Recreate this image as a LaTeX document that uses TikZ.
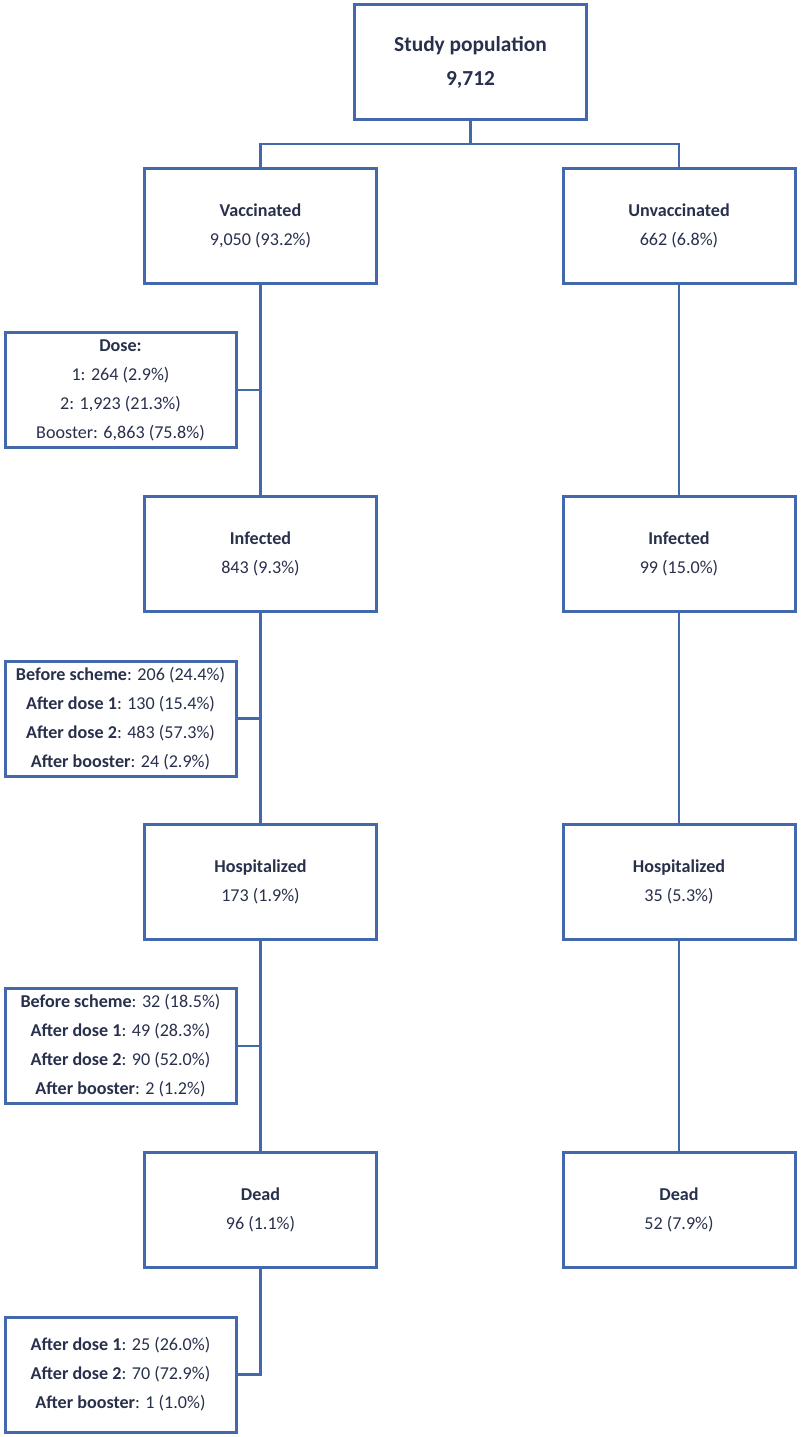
\documentclass[tikz,border=0pt]{standalone}
\usepackage{fontspec}
\setmainfont{Carlito}
\definecolor{boxblue}{RGB}{68,104,172}
\definecolor{textnavy}{RGB}{40,48,76}
\tikzset{
  box/.style={draw=boxblue, line width=1.5pt, text=textnavy, align=center,
    minimum width=116pt, minimum height=57.5pt, inner sep=0pt,
    font={\fontsize{9.05}{14.5}\selectfont}},
  sidebox/.style={box, minimum width=115.5pt, minimum height=57.5pt},
  topbox/.style={box, font={\fontsize{10.7}{17}\selectfont\bfseries}},
  link/.style={draw=boxblue, line width=1.4pt}
}
\begin{document}
\begin{tikzpicture}[x=0.5pt,y=-0.5pt]  % ------ flow of the study population --------
    \useasboundingbox (0,0) rectangle (800,1437);

    \node[topbox] (study) at (470.5,62) {Study population\\9,712};
    \coordinate (split) at (470.5,144);

    % vaccinated column
    \node[box] (vacc) at (260.5,226) {\textbf{Vaccinated}\\9,050 (93.2\%)};
    \node[box] (infv) at (260.5,554) {\textbf{Infected}\\843 (9.3\%)};
    \node[box] (hospv) at (260.5,881.5) {\textbf{Hospitalized}\\173 (1.9\%)};
    \node[box] (deadv) at (260.5,1210) {\textbf{Dead}\\96 (1.1\%)};

    % unvaccinated column
    \node[box] (unvacc) at (679,226) {\textbf{Unvaccinated}\\662 (6.8\%)};
    \node[box] (infu) at (679,554) {\textbf{Infected}\\99 (15.0\%)};
    \node[box] (hospu) at (679,881.5) {\textbf{Hospitalized}\\35 (5.3\%)};
    \node[box] (deadu) at (679,1210) {\textbf{Dead}\\52 (7.9\%)};

    % detail boxes on the left
    \node[sidebox] (dose) at (120.5,390) {\textbf{Dose:}\\1: 264 (2.9\%)\\2: 1,923 (21.3\%)\\Booster: 6,863 (75.8\%)};
    \node[sidebox] (detinf) at (120.5,718.5) {\textbf{Before scheme}: 206 (24.4\%)\\\textbf{After dose 1}: 130 (15.4\%)\\\textbf{After dose 2}: 483 (57.3\%)\\\textbf{After booster}: 24 (2.9\%)};
    \node[sidebox] (dethosp) at (120.5,1046) {\textbf{Before scheme}: 32 (18.5\%)\\\textbf{After dose 1}: 49 (28.3\%)\\\textbf{After dose 2}: 90 (52.0\%)\\\textbf{After booster}: 2 (1.2\%)};
    \node[sidebox] (detdead) at (120.5,1374.5) {\textbf{After dose 1}: 25 (26.0\%)\\\textbf{After dose 2}: 70 (72.9\%)\\\textbf{After booster}: 1 (1.0\%)};

    \draw[link] (study) -- (split) ;
    \draw[link] (vacc.north) |- (split) -| (unvacc.north) ;
    \draw[link] (vacc) -- (infv) -- (hospv) -- (deadv) ;
    \draw[link] (unvacc) -- (infu) -- (hospu) -- (deadu) ;
    \draw[link] (dose.east) -- (dose.east -| vacc.south) ;
    \draw[link] (detinf.east) -- (detinf.east -| infv.south) ;
    \draw[link] (dethosp.east) -- (dethosp.east -| hospv.south) ;
    \draw[link] (deadv.south) |- (detdead.east) ;
\end{tikzpicture}
\end{document}
